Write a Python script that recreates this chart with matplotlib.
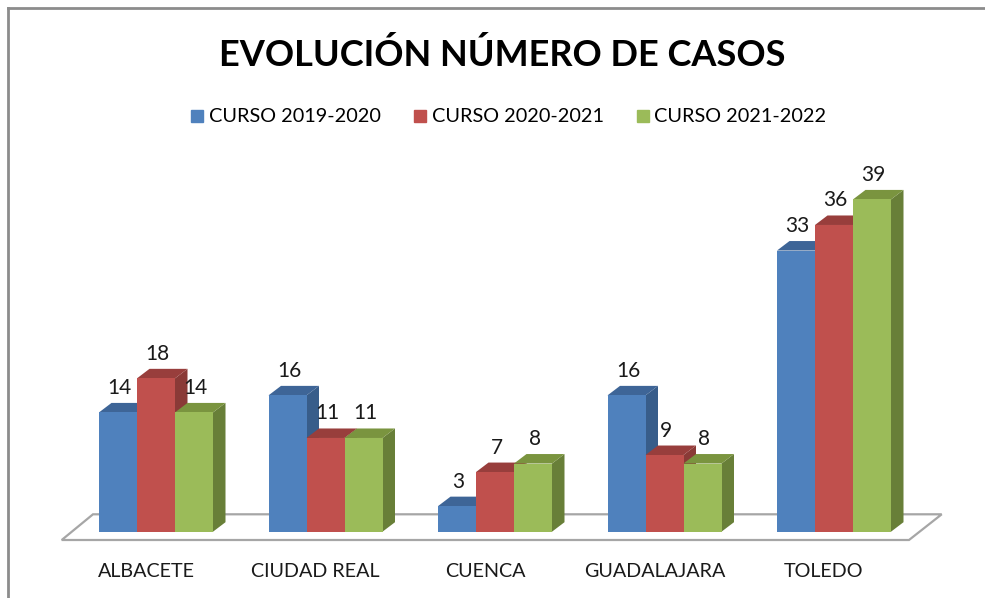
import matplotlib

matplotlib.use("Agg")
import matplotlib.pyplot as plt
from matplotlib.patches import Polygon
from matplotlib.lines import Line2D
from matplotlib import font_manager as fm

# data
provincias = ["ALBACETE", "CIUDAD REAL", "CUENCA", "GUADALAJARA", "TOLEDO"]
series = ["CURSO 2019-2020", "CURSO 2020-2021", "CURSO 2021-2022"]
curso_1920 = [14, 16, 3, 16, 33]
curso_2021 = [18, 11, 7, 9, 36]
curso_2122 = [14, 11, 8, 8, 39]
valores = [curso_1920, curso_2021, curso_2122]

# front / top / side colours per series
front = ["#4F81BD", "#C0504D", "#9BBB59"]
top = ["#3E6597", "#983E3C", "#7A943F"]
side = ["#385D8A", "#8A3A37", "#687F38"]

avail = {f.name for f in fm.fontManager.ttflist}
FONT = "Lato" if "Lato" in avail else "DejaVu Sans"
plt.rcParams["font.family"] = [FONT, "DejaVu Sans"]

W, H = 985, 598
fig = plt.figure(figsize=(W / 100, H / 100), dpi=100)
ax = fig.add_axes([0, 0, 1, 1])

# pixel geometry -> data units
px_x = 169.5   # px per category
px_y = 8.52    # px per unit value
x0_px, y0_px = 156.0, 531.7  # centre of first group, bar base (from top)
ax.set_xlim(-x0_px / px_x, (W - x0_px) / px_x)
ax.set_ylim(-(H - y0_px) / px_y, y0_px / px_y)
ax.axis("off")

bw = 38 / px_x
ddx = 12.5 / px_x
ddy = 9.5 / px_y

# floor of the 3D plot
fb, ff = 17.4 / px_y, -8.3 / px_y
floor = Polygon([((93 - x0_px) / px_x, fb), ((941.7 - x0_px) / px_x, fb),
                 ((909 - x0_px) / px_x, ff), ((61.7 - x0_px) / px_x, ff)],
                closed=True, facecolor="white", edgecolor="#A6A6A6", lw=1.6, zorder=1)
ax.add_patch(floor)

z = 2
for i, cat in enumerate(provincias):
    for j in range(3):
        v = valores[j][i]
        xl = i + (j - 1.5) * bw
        xr = xl + bw
        sidep = Polygon([(xr, 0), (xr + ddx, ddy), (xr + ddx, v + ddy), (xr, v)],
                        closed=True, facecolor=side[j], edgecolor="none", zorder=z)
        topp = Polygon([(xl, v), (xl + ddx, v + ddy), (xr + ddx, v + ddy), (xr, v)],
                       closed=True, facecolor=top[j], edgecolor="none", zorder=z)
        frontp = Polygon([(xl, 0), (xr, 0), (xr, v), (xl, v)],
                         closed=True, facecolor=front[j], edgecolor="none", zorder=z)
        for p in (sidep, topp, frontp):
            ax.add_patch(p)
        z += 1
        ax.text((xl + xr) / 2 + 1.5 / px_x, v + 24.5 / px_y, str(v), ha="center",
                va="center", fontsize=15, color="#1a1a1a", zorder=50)
    ax.text(i - 10 / px_x, -40 / px_y, cat, ha="center", va="center",
            fontsize=14.2, color="#1a1a1a")

fig.text(502 / W, 1 - 55 / H, "EVOLUCIÓN NÚMERO DE CASOS", ha="center", va="center",
         fontsize=26, fontweight="bold", color="black")

handles = [Line2D([], [], marker="s", ls="none", markersize=8.5, color=c) for c in front]
fig.legend(handles, series, loc="center", bbox_to_anchor=(507 / W, 1 - 117 / H),
           ncol=3, frameon=False, fontsize=14.3, handletextpad=0.1,
           columnspacing=1.45, handlelength=1.0)

# chart frame
fig.add_artist(Line2D([7.5 / W, 7.5 / W], [0, 1 - 7.5 / H], color="#8C8C8C", lw=2))
fig.add_artist(Line2D([7.5 / W, 1], [1 - 7.5 / H, 1 - 7.5 / H], color="#8C8C8C", lw=2))

fig.savefig("out.png", dpi=100)
